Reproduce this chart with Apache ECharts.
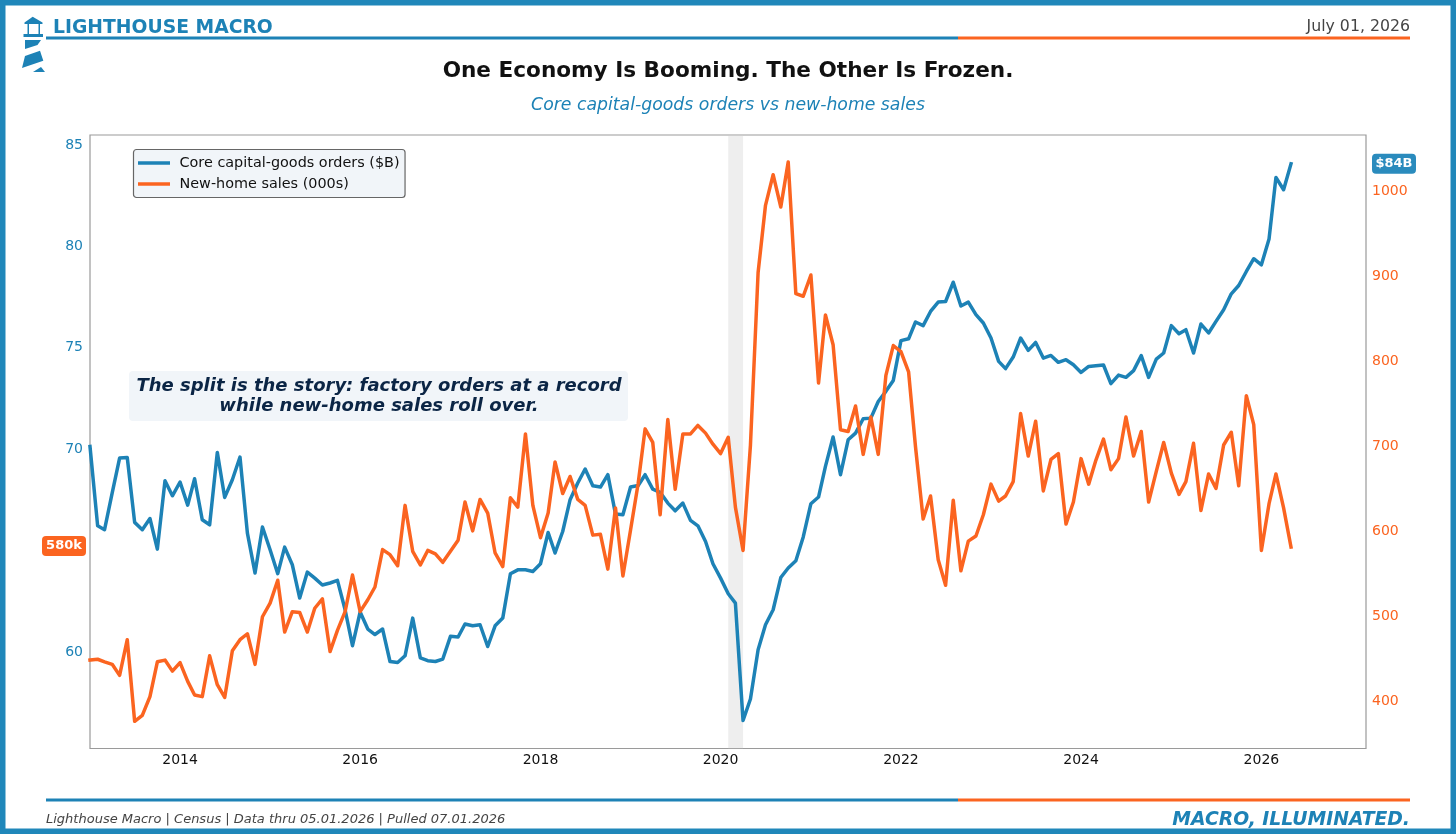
<!DOCTYPE html>
<html>
<head>
<meta charset="utf-8">
<style>html,body{margin:0;padding:0;background:#fff}#chart{width:1456px;height:834px}</style>
<script src="https://cdn.jsdelivr.net/npm/echarts@6/dist/echarts.min.js"></script>
</head>
<body>
<div id="chart"></div>
<script>
// Monthly series, January 2013 through May 2026
const coreOrders = [
70.06,66.15,65.96,67.77,69.49,69.52,66.32,65.96,66.51,65.00,68.37,67.63,
68.31,67.17,68.47,66.45,66.20,69.77,67.55,68.42,69.54,65.79,63.82,66.09,
64.97,63.79,65.10,64.23,62.59,63.87,63.57,63.23,63.33,63.46,62.01,60.24,
61.90,61.06,60.79,61.06,59.46,59.41,59.74,61.60,59.64,59.50,59.46,59.58,
60.70,60.67,61.31,61.22,61.27,60.20,61.22,61.60,63.79,63.98,63.98,63.90,
64.28,65.82,64.81,65.87,67.44,68.26,68.95,68.13,68.06,68.67,66.73,66.70,
68.06,68.14,68.67,67.96,67.80,67.27,66.89,67.27,66.42,66.15,65.38,64.28,
63.57,62.80,62.34,56.55,57.61,60.04,61.27,62.01,63.60,64.07,64.43,65.60,
67.24,67.57,69.08,70.53,68.67,70.39,70.72,71.43,71.46,72.28,72.78,73.32,
75.28,75.37,76.20,76.02,76.72,77.18,77.21,78.16,76.99,77.18,76.56,76.15,
75.41,74.26,73.90,74.47,75.41,74.80,75.19,74.42,74.55,74.21,74.34,74.09,
73.71,74.01,74.04,74.08,73.16,73.58,73.47,73.80,74.54,73.47,74.37,74.67,
76.02,75.62,75.82,74.67,76.10,75.66,76.23,76.80,77.59,78.00,78.69,79.32,
79.02,80.29,83.33,82.72,84.00];
const homeSales = [
447,448,445,442,429,471,375,382,404,445,447,434,
444,422,406,404,452,418,403,458,471,478,442,498,
514,541,480,504,503,480,508,519,457,482,504,547,
504,518,533,577,571,558,629,575,559,576,572,562,
575,588,633,599,636,620,573,557,638,627,713,629,
591,620,680,643,663,636,629,594,595,554,626,546,
600,655,719,703,618,730,648,713,713,723,714,701,
690,709,627,576,700,903,982,1018,980,1033,878,875,
900,773,853,818,718,716,746,689,733,689,782,817,
810,786,698,613,640,565,535,635,552,587,593,618,
654,634,640,657,737,687,728,646,683,690,607,633,
684,654,682,707,671,684,733,687,716,633,669,703,
667,642,657,702,623,666,649,700,715,652,758,724,
576,631,666,626,580];

const leftTicks = [60, 65, 70, 75, 80, 85];
const rightTicks = [400, 500, 600, 700, 800, 900, 1000];
const yearTicks = [2014, 2016, 2018, 2020, 2022, 2024, 2026];
const recession = [new Date(2020, 1, 1).getTime(), new Date(2020, 3, 1).getTime()];
const orderBadge = '$84B';
const salesBadge = '580k';

// First-of-month dates for the plotted observations
const monthOf = (i) => new Date(2013, i, 1).getTime();
const withDates = (values) => values.map((v, i) => [monthOf(i), v]);

const BLUE = '#1d82b6';
const ORANGE = '#fb6420';
const FONT = '"DejaVu Sans", sans-serif';
const PANEL = '#f1f5f9';

const chart = echarts.init(document.getElementById('chart'), null, { renderer: 'canvas' });

const poly = (points) => ({ type: 'polygon', z: 50, shape: { points }, style: { fill: BLUE } });
const bar = (x1, y, x2, color) => ({
  type: 'rect', z: 50, shape: { x: x1, y: y, width: x2 - x1, height: 3 }, style: { fill: color }
});
const label = (x, y, text, font, fill, align) => ({
  type: 'text', z: 60, x, y,
  style: { text, font, fill, align: align || 'left', verticalAlign: 'middle' }
});

chart.setOption({
  animation: false,
  backgroundColor: '#ffffff',
  textStyle: { fontFamily: FONT },
  grid: { left: 90, right: 90, top: 135, bottom: 85.5, show: true, borderColor: '#9a9a9a', borderWidth: 1.2, backgroundColor: 'transparent' },
  legend: {
    left: 133.5, top: 149.5, orient: 'vertical',
    padding: [6.5, 5.5, 6.5, 4.5], itemGap: 7, itemWidth: 32, itemHeight: 3.5,
    icon: 'rect',
    backgroundColor: PANEL, borderColor: '#666666', borderWidth: 1.2, borderRadius: 3,
    textStyle: { fontFamily: FONT, fontSize: 14.4, color: '#111111', padding: [1, 0, 0, 4.5] },
    data: ['Core capital-goods orders ($B)', 'New-home sales (000s)']
  },
  xAxis: {
    // Linear date scale in milliseconds, labelled at January of even years
    type: 'value',
    min: new Date(2013, 0, 1).getTime(),
    max: new Date(2027, 2, 1).getTime(),
    axisLine: { show: false }, axisTick: { show: false }, splitLine: { show: false },
    axisLabel: {
      color: '#111111', fontSize: 14, margin: 5, fontFamily: FONT,
      customValues: yearTicks.map((y) => new Date(y, 0, 1).getTime()),
      formatter: (v) => String(new Date(v).getFullYear())
    }
  },
  yAxis: [
    {
      type: 'value', min: 55.17, max: 85.42, position: 'left',
      axisLine: { show: false }, axisTick: { show: false }, splitLine: { show: false },
      axisLabel: { color: BLUE, fontSize: 14, margin: 7, verticalAlign: 'top', lineHeight: 3, fontFamily: FONT, customValues: leftTicks }
    },
    {
      type: 'value', min: 343, max: 1064.7, position: 'right',
      axisLine: { show: false }, axisTick: { show: false }, splitLine: { show: false },
      axisLabel: { color: ORANGE, fontSize: 14, margin: 6, verticalAlign: 'top', lineHeight: 2, fontFamily: FONT, customValues: rightTicks, formatter: (v) => String(v) }
    }
  ],
  series: [
    {
      name: 'Core capital-goods orders ($B)', type: 'line', data: withDates(coreOrders), yAxisIndex: 0,
      showSymbol: false, symbol: 'none', z: 3,
      itemStyle: { color: BLUE },
      lineStyle: { color: BLUE, width: 3.5, cap: 'square', join: 'round' },
      markArea: {
        silent: true,
        itemStyle: { color: '#cfcfcf', opacity: 0.35 },
        data: [[{ xAxis: recession[0] }, { xAxis: recession[1] }]]
      }
    },
    {
      name: 'New-home sales (000s)', type: 'line', data: withDates(homeSales), yAxisIndex: 1,
      showSymbol: false, symbol: 'none', z: 4,
      itemStyle: { color: ORANGE },
      lineStyle: { color: ORANGE, width: 3.5, cap: 'square', join: 'round' }
    }
  ]
});

// Badges sit on the axis gutters at the height of each series' latest value
const orderY = chart.convertToPixel({ yAxisIndex: 0 }, coreOrders[coreOrders.length - 1]);
const salesY = chart.convertToPixel({ yAxisIndex: 1 }, homeSales[homeSales.length - 1]);
const badge = (x, y, w, text, color) => ({
  type: 'group', z: 70, children: [
    { type: 'rect', z: 70, shape: { x, y: y - 10, width: w, height: 20, r: 4 }, style: { fill: color } },
    { type: 'text', z: 71, x: x + w / 2, y, style: { text, font: 'bold 13px ' + FONT, fill: '#ffffff', align: 'center', verticalAlign: 'middle' } }
  ]
});

chart.setOption({
  graphic: [
    // Page frame
    { type: 'rect', z: 40, shape: { x: 2.75, y: 2.75, width: 1450.5, height: 828.5 }, style: { fill: 'none', stroke: '#2087ba', lineWidth: 5.5 } },

    // Lighthouse mark
    poly([[32.7, 16.7], [42.5, 22.5], [42.5, 24], [24.5, 24], [24.5, 22.5]]),
    poly([[27.5, 24], [29, 24], [29, 34], [27.5, 34]]),
    poly([[38.5, 24], [40, 24], [40, 34], [38.5, 34]]),
    poly([[23.5, 34], [43, 34], [43, 37], [23.5, 37]]),
    poly([[25, 40], [41, 40], [37.5, 45], [25, 49]]),
    poly([[25, 56], [40, 50.7], [43.3, 60.7], [22, 68]]),
    poly([[33, 72], [41, 67], [45, 72]]),

    // Header
    label(53, 28.5, 'LIGHTHOUSE MACRO', 'bold 18.75px ' + FONT, BLUE),
    label(1410, 26.5, 'July 01, 2026', '15.75px ' + FONT, '#444444', 'right'),
    bar(46, 36.5, 958, BLUE),
    bar(958, 36.5, 1410, ORANGE),
    label(728, 71.5, 'One Economy Is Booming. The Other Is Frozen.', 'bold 21.6px ' + FONT, '#111111', 'center'),
    label(728, 105.5, 'Core capital-goods orders vs new-home sales', 'italic 17.3px ' + FONT, BLUE, 'center'),

    // Call-out
    { type: 'rect', z: 30, shape: { x: 129, y: 371, width: 499, height: 50, r: 4 }, style: { fill: PANEL } },
    label(379, 386.5, 'The split is the story: factory orders at a record', 'italic bold 18px ' + FONT, '#0b2545', 'center'),
    label(379, 406.5, 'while new-home sales roll over.', 'italic bold 18px ' + FONT, '#0b2545', 'center'),

    // Latest-value badges
    badge(1372, orderY, 44, orderBadge, '#2a8bbd'),
    badge(42, salesY - 1, 44, salesBadge, ORANGE),

    // Footer
    bar(46, 798.5, 958, BLUE),
    bar(958, 798.5, 1410, ORANGE),
    label(46, 819.5, 'Lighthouse Macro | Census | Data thru 05.01.2026 | Pulled 07.01.2026', 'italic 13px ' + FONT, '#444444'),
    label(1410, 820.5, 'MACRO, ILLUMINATED.', 'italic bold 18.8px ' + FONT, BLUE, 'right')
  ]
});
</script>
</body>
</html>
